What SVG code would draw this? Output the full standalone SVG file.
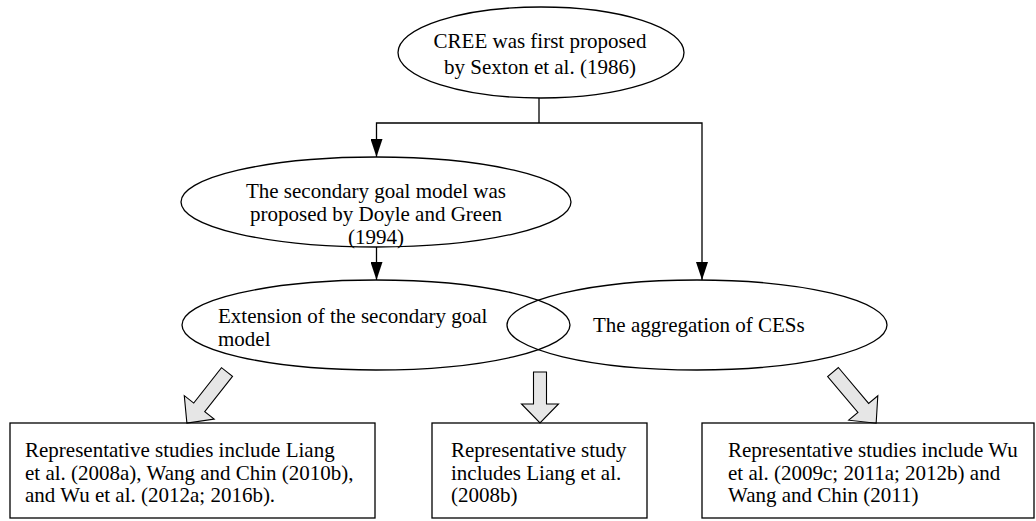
<svg xmlns="http://www.w3.org/2000/svg" width="1036" height="521" viewBox="0 0 1036 521">
<style>
text{font-family:"Liberation Serif","Times New Roman",serif;font-size:21px;fill:#000}
.c{text-anchor:middle}
.node ellipse,.node rect{fill:none;stroke:#000;stroke-width:1.3}
.conn path{stroke:#000;stroke-width:1.3;fill:none}
.hollow{fill:#e6e6e6;stroke:#000;stroke-width:1.1;stroke-linejoin:miter}
</style>
<defs>
<marker id="ah" markerUnits="userSpaceOnUse" markerWidth="18" markerHeight="12" refX="18" refY="6" orient="auto">
<path d="M0,0 L18,6 L0,12 z" fill="#000"/>
</marker>
</defs>
<rect width="1036" height="521" fill="#fff"/>
<g class="conn" id="connectors">
<path d="M539,98 V123"/>
<path d="M539,123 H376.5 V157" marker-end="url(#ah)"/>
<path d="M539,123 H702 V280" marker-end="url(#ah)"/>
<path d="M376.5,247 V280" marker-end="url(#ah)"/>
<g transform="translate(227,372) rotate(128.1)"><polygon class="hollow" points="0,-7 45,-7 45,-19 65,0 45,19 45,7 0,7"/></g>
<g transform="translate(540,372) rotate(90)"><polygon class="hollow" points="0,-6.5 32,-6.5 32,-18.5 51,0 32,18.5 32,6.5 0,6.5"/></g>
<g transform="translate(833,372) rotate(49.9)"><polygon class="hollow" points="0,-7 47,-7 47,-19 67,0 47,19 47,7 0,7"/></g>
</g>
<g class="node" id="n-cree">
<ellipse cx="541" cy="52.5" rx="143" ry="45.5"/>
<text class="c" x="540" y="47.5">CREE was first proposed</text>
<text class="c" x="540" y="74">by Sexton et al. (1986)</text>
</g>
<g class="node" id="n-secondary">
<ellipse cx="376" cy="202" rx="195" ry="45"/>
<text class="c" x="376" y="198">The secondary goal model was</text>
<text class="c" x="376" y="221">proposed by Doyle and Green</text>
<text class="c" x="376" y="243.5">(1994)</text>
</g>
<g class="node" id="n-extension">
<ellipse cx="376" cy="325" rx="194" ry="45"/>
<text x="218" y="323">Extension of the secondary goal</text>
<text x="218" y="346">model</text>
</g>
<g class="node" id="n-aggregation">
<ellipse cx="697" cy="325" rx="190" ry="45"/>
<text x="593" y="332">The aggregation of CESs</text>
</g>
<g class="node" id="n-box1">
<rect x="10" y="423" width="365" height="95"/>
<text x="25" y="457">Representative studies include Liang</text>
<text x="25" y="479.5">et al. (2008a), Wang and Chin (2010b),</text>
<text x="25" y="502">and Wu et al. (2012a; 2016b).</text>
</g>
<g class="node" id="n-box2">
<rect x="432" y="423" width="215" height="95"/>
<text x="451" y="457">Representative study</text>
<text x="451" y="479.5">includes Liang et al.</text>
<text x="451" y="502">(2008b)</text>
</g>
<g class="node" id="n-box3">
<rect x="702" y="423" width="332" height="95"/>
<text x="728" y="457">Representative studies include Wu</text>
<text x="728" y="479.5">et al. (2009c; 2011a; 2012b) and</text>
<text x="728" y="502">Wang and Chin (2011)</text>
</g>
</svg>
